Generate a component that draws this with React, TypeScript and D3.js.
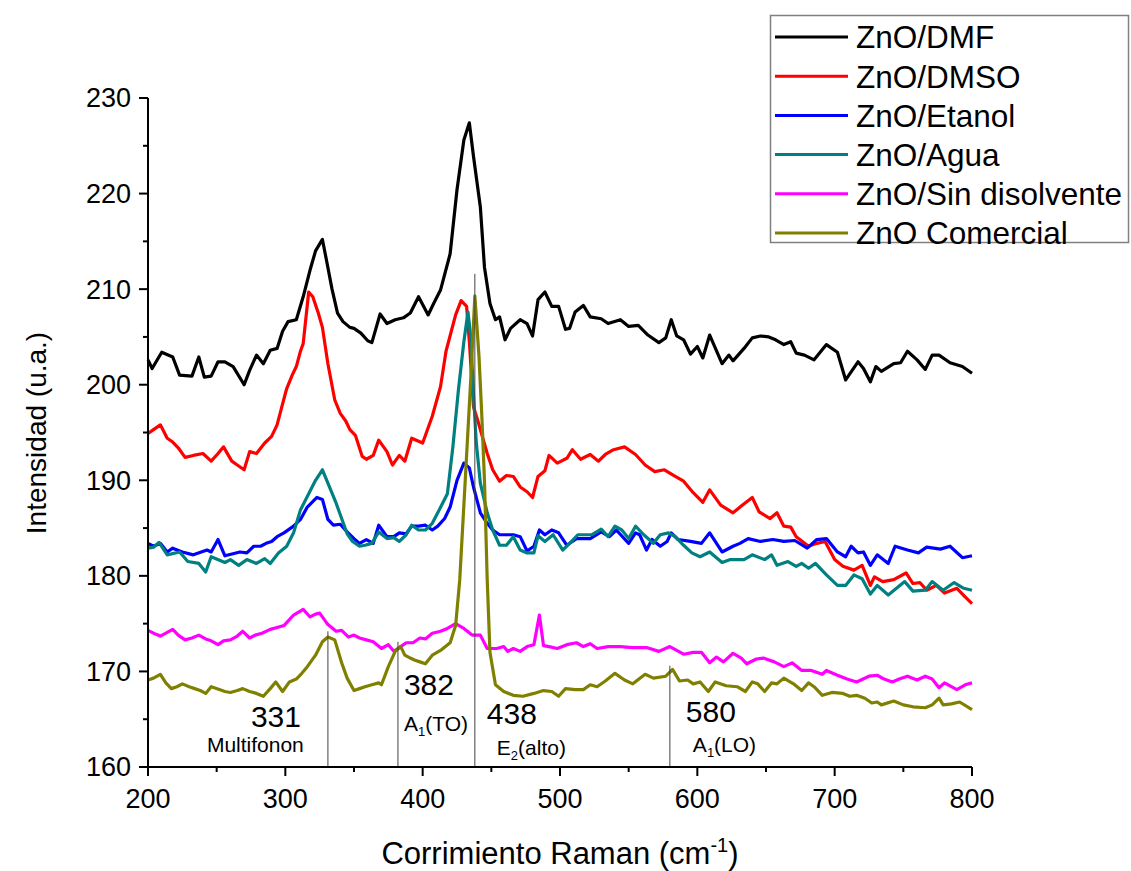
import React from "react";
import * as d3 from "d3";

type P = [number, number];

const dmf: P[] = [[200,202.6],[203,201.7],[210,203.4],[218,202.9],[223,201.0],[232,200.9],[237,202.9],[241,200.8],[246,200.9],[251,202.4],[256,202.4],[262,201.9],[270,200.0],[274,201.5],[279,203.1],[284,202.2],[289,203.6],[294,203.8],[298,205.6],[302,206.6],[308,206.8],[313,209.2],[318,212.0],[322,214.0],[327,215.2],[330,213.0],[334,210.0],[338,207.5],[342,206.6],[347,206.0],[350,205.9],[355,205.4],[360,204.6],[363,204.4],[366,205.9],[369,207.4],[374,206.4],[380,206.8],[386,207.0],[391,207.5],[397,209.2],[404,207.3],[408,208.5],[413,209.9],[420,213.7],[425,220.4],[430,225.6],[434,227.4],[437,223.9],[442,218.6],[445,212.3],[449,208.5],[453,206.8],[456,207.1],[460,204.7],[464,205.9],[471,206.8],[476,206.4],[480,205.1],[484,208.9],[489,209.7],[494,208.2],[499,208.2],[504,205.8],[507,205.9],[511,207.6],[517,208.3],[522,207.1],[530,206.9],[535,206.4],[544,206.8],[550,206.1],[557,206.2],[564,205.2],[572,204.4],[577,204.9],[581,206.8],[585,205.1],[590,204.7],[595,203.2],[600,204.0],[604,202.8],[609,205.2],[618,202.2],[623,203.1],[626,202.5],[634,203.8],[640,204.9],[646,205.1],[652,205.0],[657,204.7],[663,204.2],[668,204.5],[672,203.3],[678,203.1],[685,202.6],[694,204.2],[702,203.4],[708,200.5],[717,202.4],[721,201.7],[726,200.3],[730,201.9],[734,201.4],[743,202.2],[748,202.3],[753,203.5],[760,202.6],[766,201.6],[771,203.1],[776,203.1],[784,202.3],[793,201.9],[800,201.2]];

const dmso: P[] = [[200,194.9],[204,195.3],[209,195.8],[214,194.4],[218,194.0],[222,193.4],[227,192.4],[233,192.6],[240,192.8],[246,192.0],[251,192.8],[255,193.5],[261,192.0],[265,191.6],[270,191.1],[274,193.0],[279,192.8],[285,193.9],[290,194.6],[294,195.8],[298,198.0],[301,199.6],[305,201.0],[308,201.9],[311,203.5],[313,204.3],[317,209.7],[320,209.2],[324,207.5],[327,206.0],[331,202.2],[336,198.4],[340,197.0],[344,196.2],[347,195.3],[351,194.7],[356,192.5],[359,192.2],[364,192.6],[368,194.2],[374,193.0],[378,191.6],[383,192.6],[387,192.0],[392,194.4],[400,193.9],[407,196.7],[413,199.8],[417,203.5],[424,207.3],[428,208.8],[432,208.2],[434,204.5],[437,197.7],[440,196.3],[447,192.8],[451,191.1],[456,189.9],[461,190.5],[466,190.4],[471,189.3],[476,188.8],[480,188.2],[484,190.4],[489,191.0],[492,192.6],[498,191.8],[505,192.3],[509,193.2],[515,192.2],[522,192.7],[528,192.0],[533,192.7],[539,193.2],[547,193.5],[555,192.7],[562,191.6],[569,190.9],[576,191.1],[583,190.5],[590,189.9],[597,188.7],[604,187.7],[609,189.0],[617,187.4],[626,186.6],[632,187.3],[640,188.2],[645,186.7],[653,186.0],[658,186.6],[663,185.2],[668,185.1],[672,184.1],[681,183.1],[687,183.4],[693,183.6],[700,181.7],[706,181.0],[714,180.6],[720,181.1],[726,179.0],[729,179.9],[735,179.4],[743,179.6],[752,180.3],[757,179.2],[762,179.3],[767,178.5],[774,179.0],[780,178.2],[789,178.7],[795,177.8],[800,177.1]];

const etanol: P[] = [[200,183.4],[204,183.1],[209,183.4],[214,182.5],[218,182.9],[225,182.5],[233,182.2],[243,182.7],[246,182.5],[251,183.8],[256,182.1],[267,182.5],[272,182.4],[277,183.1],[282,183.1],[286,183.4],[290,183.6],[294,184.1],[299,184.5],[306,185.2],[311,185.9],[316,187.2],[323,188.2],[327,188.0],[331,185.9],[335,185.3],[340,185.4],[345,184.6],[350,183.9],[354,183.4],[359,183.8],[364,183.4],[368,185.3],[374,184.1],[379,184.1],[383,184.5],[388,184.4],[392,185.2],[397,185.2],[402,185.3],[407,184.8],[411,185.2],[416,186.0],[420,187.2],[425,190.0],[430,191.8],[434,191.3],[437,189.3],[442,186.6],[447,185.5],[451,184.8],[456,184.3],[461,184.3],[466,184.3],[471,184.1],[476,182.6],[481,183.1],[485,184.8],[489,184.3],[494,184.8],[499,184.5],[505,183.2],[512,183.9],[522,183.9],[530,184.6],[536,184.1],[541,184.8],[550,183.4],[555,184.5],[558,184.3],[563,182.7],[567,183.8],[573,183.1],[578,183.6],[581,184.5],[586,183.8],[595,183.6],[603,183.4],[609,184.5],[618,182.5],[626,183.1],[631,183.4],[637,183.9],[646,183.6],[655,183.8],[663,183.6],[671,183.7],[680,182.9],[687,183.8],[694,183.9],[702,182.5],[708,182.0],[712,183.1],[717,182.4],[721,182.5],[726,181.1],[731,182.2],[739,181.3],[744,183.1],[753,182.7],[761,182.4],[767,183.0],[777,182.8],[784,183.1],[793,181.9],[800,182.1]];

const agua: P[] = [[200,182.9],[204,183.0],[208,183.5],[214,182.2],[223,182.5],[229,181.5],[237,181.3],[242,180.4],[246,182.0],[256,181.4],[260,181.7],[266,181.1],[272,181.7],[279,181.3],[285,181.8],[289,181.3],[295,182.4],[301,183.1],[306,184.5],[311,186.9],[316,188.3],[322,190.0],[327,191.1],[331,189.7],[337,187.6],[341,186.0],[345,184.4],[349,183.6],[354,183.1],[358,183.2],[363,183.4],[368,184.6],[374,183.9],[379,184.0],[383,183.6],[388,184.3],[392,185.3],[397,184.8],[402,184.8],[407,185.5],[411,186.6],[418,188.6],[422,193.5],[426,199.4],[430,204.5],[433,207.6],[435,205.0],[437,199.0],[439,194.0],[442,189.7],[447,186.6],[451,184.8],[456,183.2],[461,183.2],[466,184.1],[471,182.7],[476,182.4],[481,182.4],[484,184.2],[489,183.6],[495,184.3],[502,182.7],[507,183.4],[513,184.3],[523,184.3],[530,184.9],[535,184.1],[540,185.2],[545,184.8],[550,183.9],[555,185.2],[561,184.3],[568,183.4],[573,184.3],[579,184.5],[584,184.1],[590,183.2],[596,182.4],[602,182.0],[609,182.5],[618,181.4],[624,181.7],[634,181.7],[640,182.2],[649,181.7],[654,182.2],[658,181.1],[666,181.5],[672,181.0],[676,181.3],[681,180.8],[686,181.3],[694,180.1],[702,179.0],[708,179.0],[714,180.1],[720,179.7],[726,178.1],[731,179.0],[739,178.0],[745,178.7],[751,179.4],[757,178.4],[766,178.5],[771,179.4],[779,178.5],[787,179.3],[794,178.7],[800,178.5]];

const sinDisolvente: P[] = [[200,174.3],[204,174.0],[209,173.7],[213,174.0],[218,174.4],[222,173.8],[227,173.3],[232,173.5],[237,173.8],[242,173.4],[246,173.2],[251,172.8],[255,173.2],[260,173.3],[265,173.7],[269,174.2],[274,173.5],[278,173.8],[283,174.0],[289,174.4],[294,174.6],[299,174.8],[306,175.9],[313,176.5],[318,175.7],[322,176.0],[325,176.1],[331,174.9],[337,174.2],[341,174.3],[346,173.6],[350,173.8],[354,173.5],[359,173.3],[364,173.1],[370,172.4],[375,172.8],[379,172.1],[384,172.6],[388,173.0],[393,173.0],[398,173.5],[402,173.4],[407,174.0],[413,174.2],[418,174.5],[424,175.0],[430,174.5],[436,173.8],[442,173.8],[447,172.4],[454,172.4],[459,172.6],[462,172.1],[466,172.4],[471,172.1],[476,172.6],[481,172.8],[485,175.9],[488,172.7],[492,172.6],[498,172.4],[505,172.8],[512,173.0],[517,172.6],[522,172.9],[527,172.4],[535,172.6],[544,172.6],[553,172.5],[563,172.5],[572,172.1],[580,172.6],[590,171.8],[597,172.0],[603,172.0],[609,170.9],[614,171.5],[619,171.0],[626,171.9],[632,171.4],[636,170.8],[643,171.3],[648,171.4],[656,171.0],[663,170.5],[669,170.9],[676,170.1],[683,170.1],[691,169.7],[694,170.1],[702,169.6],[709,169.2],[716,168.9],[725,169.5],[731,169.6],[736,169.2],[742,168.9],[747,169.2],[753,169.5],[760,169.1],[766,169.5],[771,169.2],[776,168.3],[780,168.8],[789,168.1],[795,168.6],[800,168.8]];

const comercial: P[] = [[200,169.1],[204,169.3],[209,169.7],[213,168.8],[217,168.2],[221,168.4],[225,168.7],[230,168.4],[234,168.2],[238,168.0],[242,167.7],[246,168.4],[252,168.1],[256,167.9],[260,167.8],[265,168.0],[269,168.2],[274,167.9],[279,167.7],[284,167.4],[289,168.2],[293,168.9],[298,167.9],[303,168.9],[308,169.2],[312,169.8],[316,170.5],[322,171.7],[327,173.1],[331,173.6],[336,173.3],[341,170.9],[345,169.3],[350,168.0],[354,168.2],[358,168.4],[363,168.6],[368,168.8],[370,168.6],[375,170.5],[380,172.1],[384,172.6],[387,171.7],[391,171.4],[394,171.2],[398,171.0],[402,170.8],[407,171.7],[413,172.2],[420,173.0],[424,174.8],[427,179.6],[431,190.0],[435,200.5],[438,209.3],[441,203.0],[443,197.0],[445,190.0],[447,179.6],[449,172.0],[453,168.6],[459,167.9],[466,167.5],[473,167.4],[481,167.7],[488,168.0],[494,167.9],[499,167.4],[504,168.2],[511,168.1],[517,168.1],[522,168.6],[527,168.4],[533,169.0],[540,169.8],[547,169.1],[553,168.7],[562,169.7],[568,169.3],[577,169.5],[582,170.2],[587,169.0],[593,169.1],[597,168.7],[602,168.9],[608,167.9],[613,168.9],[621,168.5],[629,168.4],[635,167.9],[640,168.9],[644,168.7],[649,167.9],[654,168.8],[658,168.7],[663,169.3],[670,168.7],[676,168.0],[681,168.8],[685,168.4],[691,167.5],[698,167.8],[706,167.7],[711,167.4],[716,167.5],[722,167.2],[727,166.7],[731,166.8],[734,166.5],[743,166.9],[750,166.5],[757,166.3],[766,166.2],[771,166.5],[776,167.2],[779,166.5],[785,166.6],[791,166.8],[800,166.0]];

const seriesNames = ["ZnO/DMF", "ZnO/DMSO", "ZnO/Etanol", "ZnO/Agua", "ZnO/Sin disolvente", "ZnO Comercial"];
const seriesColors = ["#000000", "#ff0000", "#0000ff", "#008080", "#ff00ff", "#808000"];
const seriesData = [dmf, dmso, etanol, agua, sinDisolvente, comercial];

const xTicks = [200, 300, 400, 500, 600, 700, 800];
const xMinorTicks = [250, 350, 450, 550, 650, 750];
const yTicks = [160, 170, 180, 190, 200, 210, 220, 230];
const yMinorTicks = [165, 175, 185, 195, 205, 215, 225];

const peakPos = [331, 382, 438, 580];
const peakTop = [174.2, 173.1, 211.6, 170.6];
const peakMode = [["Multifonon", "", ""], ["A", "1", "(TO)"], ["E", "2", "(alto)"], ["A", "1", "(LO)"]];

const FONT = "'Liberation Sans', Arial, sans-serif";

export default function App() {
  const x = d3.scaleLinear().domain([200, 800]).range([148, 972]);
  const y = d3.scaleLinear().domain([160, 230]).range([767, 98]);
  const line = d3.line<P>().x(d => x(d[0])).y(d => y(d[1]));

  const numLayout = [
    { nx: -77, ny: 727, mx: -121, my: 752 },
    { nx: 6, ny: 695, mx: 6, my: 731 },
    { nx: 12, ny: 724, mx: 22, my: 755 },
    { nx: 16, ny: 722, mx: 23, my: 752 },
  ];

  return (
    <svg width={1131} height={871} style={{ position: "absolute", left: 0, top: 0, background: "#fff" }} fontFamily={FONT}>
      <rect x={0} y={0} width={1131} height={871} fill="#fff" />
      {seriesData.map((s, i) => (
        <path key={i} d={line(s) || ""} fill="none" stroke={seriesColors[i]} strokeWidth={3.2} strokeLinejoin="round" />
      ))}
      {peakPos.map((p, i) => (
        <line key={"pk" + i} x1={x(p)} x2={x(p)} y1={y(peakTop[i])} y2={y(160)} stroke="#444" strokeWidth={1} />
      ))}
      {peakPos.map((p, i) => {
        const L = numLayout[i];
        const m = peakMode[i];
        return (
          <g key={"pl" + i}>
            <text x={x(p) + L.nx} y={L.ny} fontSize={30} fill="#000">{p}</text>
            <text x={x(p) + L.mx} y={L.my} fontSize={21} fill="#000">
              {m[0]}
              {m[1] && <tspan fontSize={13} dy={5}>{m[1]}</tspan>}
              {m[1] && <tspan dy={-5}>{m[2]}</tspan>}
            </text>
          </g>
        );
      })}
      <line x1={148} x2={148} y1={y(230)} y2={y(160) + 1} stroke="#000" strokeWidth={2} />
      <line x1={147} x2={x(800)} y1={767} y2={767} stroke="#000" strokeWidth={2} />
      {yTicks.map(t => (
        <g key={"yt" + t}>
          <line x1={139} x2={148} y1={y(t)} y2={y(t)} stroke="#000" strokeWidth={2} />
          <text x={131} y={y(t)} dy="0.35em" textAnchor="end" fontSize={27}>{t}</text>
        </g>
      ))}
      {yMinorTicks.map(t => (
        <line key={"ym" + t} x1={143} x2={148} y1={y(t)} y2={y(t)} stroke="#000" strokeWidth={2} />
      ))}
      {xTicks.map(t => (
        <g key={"xt" + t}>
          <line x1={x(t)} x2={x(t)} y1={767} y2={776} stroke="#000" strokeWidth={2} />
          <text x={x(t)} y={808} textAnchor="middle" fontSize={27}>{t}</text>
        </g>
      ))}
      {xMinorTicks.map(t => (
        <line key={"xm" + t} x1={x(t)} x2={x(t)} y1={767} y2={772} stroke="#000" strokeWidth={2} />
      ))}
      <text x={560} y={864} textAnchor="middle" fontSize={31}>
        Corrimiento Raman (cm<tspan fontSize={20} dy={-12}>-1</tspan><tspan dy={12}>)</tspan>
      </text>
      <text transform="translate(46,433) rotate(-90)" textAnchor="middle" fontSize={28}>Intensidad (u.a.)</text>
      <rect x={770.5} y={15.5} width={358} height={227} fill="#fff" stroke="#808080" strokeWidth={1.5} />
      {seriesNames.map((n, i) => {
        const cy = 37 + i * 39.2;
        return (
          <g key={"lg" + i}>
            <line x1={775} x2={848} y1={cy} y2={cy} stroke={seriesColors[i]} strokeWidth={3} />
            <text x={856} y={cy} dy="0.36em" fontSize={31.5}>{n}</text>
          </g>
        );
      })}
    </svg>
  );
}
